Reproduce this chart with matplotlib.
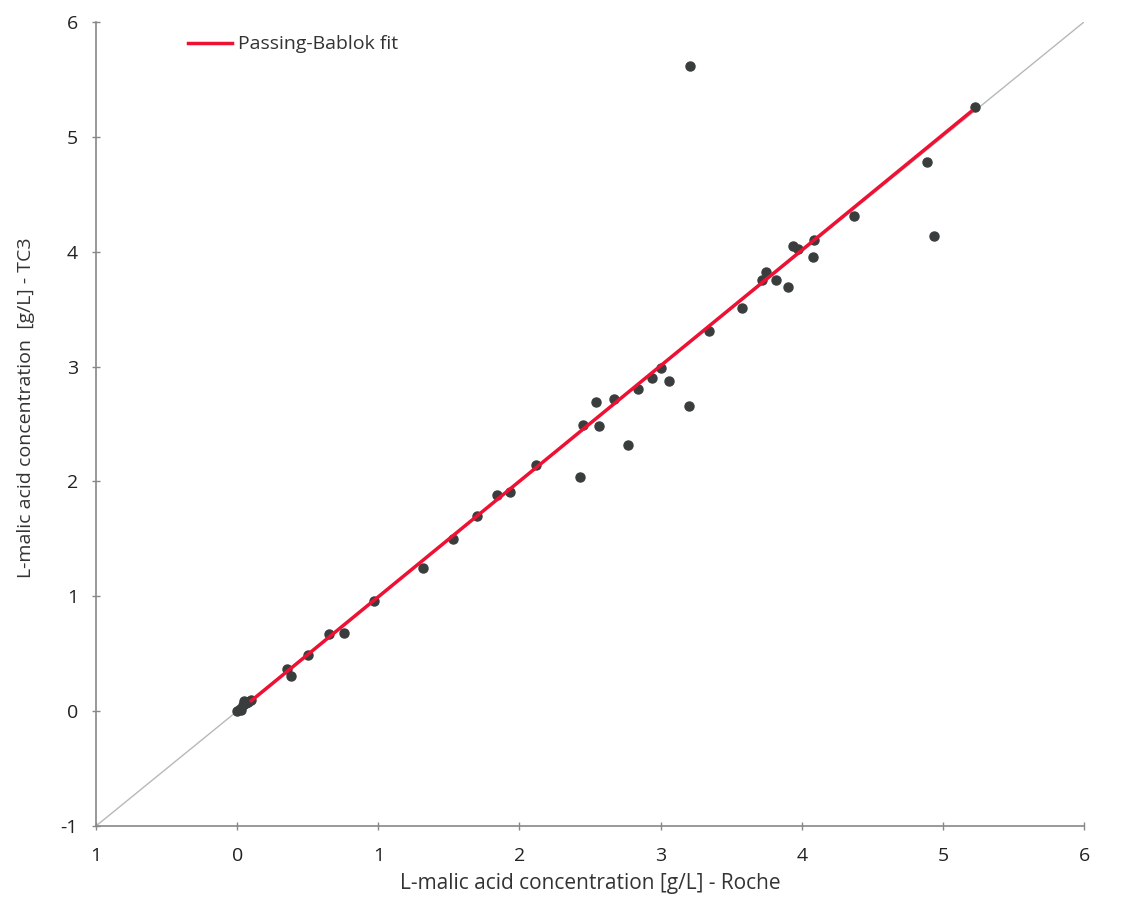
import numpy as np
import matplotlib.pyplot as plt

# L-malic acid, Roche (x) vs TC3 (y), g/L
roche = [0.00, 0.02, 0.04, 0.06, 0.08, 0.10, 0.05, 0.03,
         0.35, 0.38, 0.50, 0.65, 0.76, 0.97, 1.32, 1.53, 1.70, 1.84, 1.93,
         2.12, 2.43, 2.45, 2.56, 2.54, 2.67, 2.77, 2.84, 2.94, 3.00, 3.06,
         3.20, 3.34, 3.58, 3.72, 3.75, 3.82, 3.90, 3.94, 3.97, 4.09, 4.08,
         4.37, 4.89, 4.94, 5.23, 3.21]
tc3 = [0.00, 0.02, 0.05, 0.07, 0.08, 0.10, 0.09, 0.01,
       0.37, 0.31, 0.49, 0.67, 0.68, 0.96, 1.25, 1.50, 1.70, 1.88, 1.91,
       2.14, 2.04, 2.49, 2.48, 2.69, 2.72, 2.32, 2.80, 2.90, 2.99, 2.87,
       2.66, 3.31, 3.51, 3.75, 3.82, 3.75, 3.69, 4.05, 4.02, 4.10, 3.95,
       4.31, 4.78, 4.14, 5.26, 5.62]

# Passing-Bablok regression line end points
fit_x = [0.10, 5.20]
fit_y = [0.09, 5.22]

ticks = [-1, 0, 1, 2, 3, 4, 5, 6]
xtick_labels = ['1', '0', '1', '2', '3', '4', '5', '6']
ytick_labels = ['-1', '0', '1', '2', '3', '4', '5', '6']

plt.rcParams['font.family'] = ['Open Sans', 'DejaVu Sans']

fig = plt.figure(figsize=(11.31, 9.14), dpi=100, facecolor='w')
ax = fig.add_axes([0.0849, 0.0963, 0.8736, 0.8797])

ax.plot([-1, 6], [-1, 6], color='#b8b8b8', lw=1, zorder=1)
ax.plot(roche, tc3, 'o', color='#3a3d3d', ms=6.5, mec='#3a3d3d', zorder=2)
ax.plot(fit_x, fit_y, color='#ee1133', lw=2.5, zorder=3, label='Passing-Bablok fit')

ax.set_xlim(-1, 6)
ax.set_ylim(-1, 6)
ax.set_xticks(ticks)
ax.set_xticklabels(xtick_labels)
ax.set_yticks(ticks)
ax.set_yticklabels(ytick_labels)
ax.tick_params(direction='inout', length=6, width=1, color='#888888',
               labelsize=14, labelcolor='#222222')
ax.tick_params(axis='x', pad=12)
ax.tick_params(axis='y', pad=10)

for spine in ('top', 'right'):
    ax.spines[spine].set_visible(False)
for spine in ('left', 'bottom'):
    ax.spines[spine].set_color('#888888')
    ax.spines[spine].set_linewidth(1.2)

ax.set_xlabel('L-malic acid concentration [g/L] - Roche', fontsize=15, color='#333333', labelpad=6)
ax.set_ylabel('L-malic acid concentration  [g/L] - TC3', fontsize=14, color='#333333', labelpad=10)
ax.yaxis.set_label_coords(-0.062, 0.52)

leg = ax.legend(loc='upper left', bbox_to_anchor=(0.075, 1.005), frameon=False,
                fontsize=14, handlelength=2.3, handletextpad=0.3)
for t in leg.get_texts():
    t.set_color('#333333')

fig.savefig('out.png', dpi=100, facecolor='w')
